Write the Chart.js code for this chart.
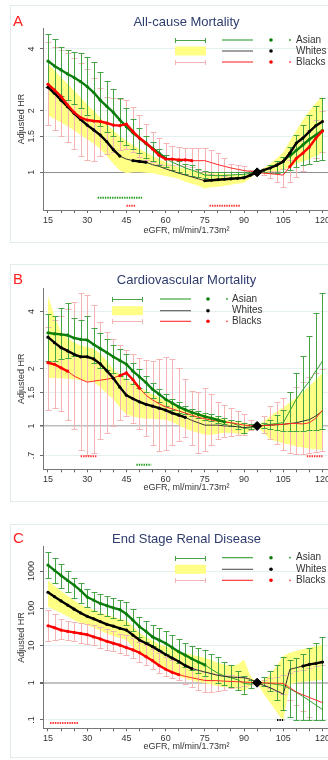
<!DOCTYPE html>
<html><head><meta charset="utf-8">
<script src="https://cdn.jsdelivr.net/npm/chart.js@4.4.0/dist/chart.umd.min.js"></script>
<style>
html,body{margin:0;padding:0;background:#fff;width:328px;height:760px;overflow:hidden;position:relative}
.frame{position:absolute;left:10px;width:340px;border:1px solid #e3ecec;background:#fff}
canvas{position:absolute;left:0}
</style></head><body>
<div class="frame" style="top:5px;height:236px"></div>
<div class="frame" style="top:264px;height:236px"></div>
<div class="frame" style="top:524px;height:232px"></div>
<canvas id="cA" width="340" height="250" style="top:0px"></canvas>
<canvas id="cB" width="340" height="250" style="top:255px"></canvas>
<canvas id="cC" width="340" height="248" style="top:512px"></canvas>
<script>
// ---------- DATA ----------
const eGFR = [15,17.5,20,22.5,25,27.5,30,32.5,35,37.5,40,42.5,45,47.5,50,52.5,55,57.5,60,62.5,65,67.5,70,72.5,75,77.5,80,82.5,85,87.5,90,92.5,95,97.5,100,102.5,105,107.5,110,112.5,115,117.5,120];
const xMajorTicks = [15,30,45,60,75,90,105,120];
const xAllTicks = [15,20,25,30,35,40,45,50,55,60,65,70,75,80,85,90,95,100,105,110,115,120];
const groupLabels = ["Asian","Whites","Blacks"];

// Panel A: All-cause mortality
const asianA   = [3.49,3.3,3.16,3.02,2.9,2.77,2.62,2.45,2.25,2.1,1.96,1.8,1.67,1.56,1.47,1.38,1.31,1.24,1.17,1.12,1.086,1.05,1.026,1.0,0.97,0.965,0.963,0.965,0.97,0.975,0.978,0.99,1.0,1.02,1.05,1.08,1.12,1.2,1.28,1.36,1.45,1.52,1.6];
const asianLoA = [2.6,2.45,2.35,2.25,2.15,2.05,1.9,1.8,1.68,1.58,1.5,1.42,1.36,1.3,1.24,1.18,1.13,1.09,1.06,1.03,1.0,0.98,0.965,0.95,0.935,0.93,0.93,0.935,0.94,0.95,0.96,0.98,1.0,1.0,0.99,0.99,1.0,1.03,1.06,1.08,1.1,1.13,1.15];
const asianHiA = [4.72,4.45,4.1,3.95,3.85,3.8,3.67,3.45,3.1,2.8,2.55,2.3,2.05,1.82,1.65,1.5,1.4,1.3,1.22,1.16,1.13,1.1,1.08,1.04,1.01,1.0,1.0,1.0,1.0,1.0,1.0,1.0,1.0,1.04,1.09,1.14,1.19,1.33,1.52,1.7,1.9,2.1,2.3];
const whiteA   = [2.6,2.43,2.25,2.09,1.94,1.81,1.7,1.61,1.52,1.41,1.29,1.2,1.16,1.14,1.13,1.12,1.09,1.07,1.04,1.015,0.99,0.97,0.95,0.93,0.91,0.915,0.92,0.925,0.93,0.935,0.94,0.97,1.0,1.026,1.05,1.085,1.13,1.24,1.39,1.47,1.58,1.69,1.77];
const whiteLoA = [1.9,1.82,1.75,1.68,1.6,1.52,1.45,1.38,1.3,1.2,1.1,1.02,0.99,1.0,1.0,0.995,0.99,0.975,0.96,0.945,0.93,0.9,0.88,0.86,0.835,0.845,0.85,0.86,0.87,0.88,0.89,0.94,1.0,1.0,1.0,1.01,1.03,1.06,1.1,1.13,1.16,1.2,1.25];
const whiteHiA = [3.4,3.15,2.9,2.7,2.5,2.32,2.15,2.0,1.85,1.72,1.6,1.5,1.42,1.36,1.3,1.25,1.2,1.16,1.12,1.09,1.06,1.04,1.02,1.0,0.99,0.99,0.99,0.985,0.98,0.98,0.98,0.99,1.0,1.05,1.1,1.17,1.25,1.42,1.6,1.8,2.0,2.18,2.35];
const blackA   = [2.69,2.52,2.34,2.13,1.96,1.85,1.8,1.78,1.77,1.74,1.7,1.69,1.72,1.58,1.47,1.39,1.3,1.21,1.16,1.16,1.15,1.15,1.14,1.14,1.14,1.115,1.09,1.07,1.05,1.035,1.02,1.01,1.0,0.99,0.985,0.977,0.97,1.066,1.17,1.24,1.33,1.47,1.59];
const blackLoA = [1.7,1.6,1.5,1.4,1.3,1.2,1.15,1.14,1.2,1.23,1.26,1.28,1.3,1.25,1.19,1.15,1.12,1.1,1.09,1.08,1.08,1.07,1.06,1.03,1.0,0.985,0.97,0.96,0.95,0.95,0.96,0.98,1.0,0.97,0.94,0.9,0.85,0.9,0.95,1.02,1.1,1.17,1.25];
const blackHiA = [4.3,4.1,3.95,3.8,3.6,3.4,3.2,2.9,2.57,2.34,2.3,2.28,2.25,2.09,1.9,1.73,1.58,1.47,1.39,1.35,1.33,1.32,1.31,1.31,1.31,1.28,1.24,1.17,1.1,1.08,1.07,1.03,1.0,1.005,1.01,1.02,1.04,1.15,1.3,1.42,1.6,1.8,2.0];

// Panel B: Cardiovascular mortality
const asianB   = [3.09,3.05,3.03,3.0,2.9,2.85,2.83,2.68,2.55,2.43,2.31,2.21,2.11,1.94,1.81,1.69,1.56,1.47,1.38,1.32,1.26,1.22,1.18,1.15,1.12,1.1,1.075,1.05,1.04,1.01,0.97,0.98,1.0,1.01,1.02,1.03,1.04,1.2,1.38,1.55,1.72,1.95,2.19];
const asianLoB = [2.19,2.2,2.24,2.28,2.33,2.32,2.31,2.15,2.02,1.96,1.9,1.83,1.76,1.67,1.59,1.5,1.41,1.34,1.27,1.22,1.17,1.15,1.13,1.1,1.08,1.06,1.04,1.02,1.0,0.96,0.92,0.96,1.0,0.98,0.96,0.95,0.94,0.94,0.94,0.945,0.95,0.955,0.96];
const asianHiB = [3.86,3.78,4.17,4.44,3.7,3.6,3.78,3.28,3.09,2.85,2.68,2.53,2.38,2.15,2.0,1.83,1.69,1.57,1.47,1.38,1.33,1.27,1.23,1.2,1.17,1.15,1.13,1.1,1.08,1.06,1.04,1.02,1.0,1.04,1.08,1.14,1.22,1.5,1.9,2.33,2.97,3.93,5.0];
const whiteB   = [2.93,2.74,2.58,2.48,2.38,2.31,2.31,2.25,2.12,1.95,1.78,1.6,1.45,1.39,1.34,1.3,1.27,1.24,1.21,1.17,1.14,1.11,1.07,1.04,1.01,1.01,1.01,1.0,1.0,0.99,0.98,0.99,1.0,1.005,1.01,1.015,1.02,1.03,1.04,1.06,1.08,1.13,1.2];
const whiteLoB = [1.79,1.78,1.78,1.77,1.76,1.74,1.72,1.7,1.6,1.48,1.38,1.25,1.15,1.12,1.1,1.09,1.09,1.08,1.08,1.05,1.01,0.97,0.94,0.92,0.9,0.9,0.91,0.92,0.92,0.91,0.9,0.95,1.0,0.92,0.85,0.83,0.81,0.8,0.78,0.77,0.76,0.755,0.75];
const whiteHiB = [4.8,3.78,3.09,2.9,2.75,2.65,2.6,2.55,2.4,2.2,1.98,1.86,1.76,1.67,1.59,1.53,1.47,1.41,1.35,1.31,1.27,1.23,1.2,1.17,1.15,1.12,1.1,1.08,1.06,1.05,1.04,1.02,1.0,1.06,1.13,1.19,1.25,1.33,1.41,1.51,1.62,1.75,1.9];
const blackB   = [2.15,2.11,2.02,1.94,1.83,1.76,1.7,1.72,1.74,1.76,1.79,1.84,1.9,1.75,1.58,1.45,1.37,1.31,1.26,1.23,1.2,1.17,1.14,1.11,1.09,1.075,1.06,1.05,1.04,1.025,1.01,1.005,1.0,1.005,1.01,1.015,1.02,1.03,1.03,1.025,1.04,1.1,1.21];
const blackLoB = [1.22,1.25,1.2,1.08,0.96,0.75,0.7,0.72,0.85,0.92,1.0,1.08,1.13,1.04,0.96,0.89,0.79,0.74,0.75,0.79,0.83,0.87,0.79,0.72,0.74,0.79,0.85,0.87,0.89,0.9,0.9,0.95,1.0,0.92,0.85,0.8,0.75,0.72,0.71,0.71,0.72,0.73,0.74];
const blackHiB = [3.3,3.6,3.8,4.1,4.5,5.0,4.9,4.3,3.5,3.1,2.85,2.65,2.5,2.38,2.28,2.22,2.2,2.25,2.31,2.24,2.02,1.76,1.53,1.5,1.59,1.47,1.33,1.29,1.25,1.2,1.15,1.08,1.0,1.13,1.27,1.34,1.41,1.5,1.6,1.7,1.8,1.9,2.0];

// Panel C: End stage renal disease
const asianC   = [1450,1050,760,560,420,300,200,165,135,118,103,92,70,48,32,24,17,14,11.5,8.8,6.8,5.5,4.4,3.6,3.0,2.3,1.8,1.5,1.35,1.2,0.95,0.92,1.0,0.98,0.95,0.9,0.85,0.68,0.55,0.43,0.33,0.25,0.19];
const asianLoC = [640,480,360,270,195,140,108,85,72,62,54,48,35,24,16.5,12.5,9.5,7.5,6,4.6,3.4,2.7,2.2,1.8,1.5,1.2,1.0,0.85,0.75,0.65,0.5,0.72,1.0,0.8,0.6,0.35,0.18,0.12,0.1,0.1,0.1,0.1,0.1];
const asianHiC = [3200,2200,1550,1000,650,480,330,270,235,210,190,172,150,95,60,45,36,29,24,19,15,12,9.5,8.5,7.5,6,4.8,3.7,2.9,2.1,1.5,1.15,1.0,1.4,2.0,3.0,4.8,4.0,4.5,6,8.5,12,17];
const whiteC   = [270,205,158,122,95,75,61,52,44,37,33,29,26,19,14,11.5,9.3,7.3,5.7,4.6,3.7,2.9,2.4,2.15,1.94,1.75,1.57,1.48,1.42,1.38,1.36,1.23,1.0,0.85,0.73,0.6,0.49,2.28,2.53,2.8,3.1,3.3,3.6];
const whiteLoC = [110,90,75,60,48,40,35,30,25,21,18,16,14,9,6,4.8,3.8,3.0,2.4,1.9,1.5,1.3,1.15,1.05,0.98,0.88,0.8,0.76,0.73,0.68,0.6,0.8,1.0,0.5,0.29,0.16,0.093,0.9,1.0,1.05,1.1,1.15,1.2];
const whiteHiC = [560,400,290,215,165,125,105,90,75,66,58,52,47,33,22,17,13.5,11,9.5,8,6.8,6.2,5.6,5.1,4.7,4.0,3.45,3.1,2.8,3.1,4.2,1.5,1.0,1.2,1.67,2.8,5.2,6.4,7.1,7.9,8.7,9.7,10.7];
const blackC   = [34,30,26,24,22.5,21,19.5,17,15,13,11.5,10.2,8.8,7.6,6.4,5.0,3.9,2.9,2.3,1.9,1.65,1.48,1.36,1.25,1.15,1.14,1.13,1.1,1.08,1.06,1.04,1.02,1.0,0.99,0.98,0.97,0.96,0.73,0.56,0.47,0.4,0.34,0.29];
const blackLoC = [13,14,14.6,14,13,12,11,10,8.7,7.8,7.0,6.2,5.4,4.5,3.6,3.0,2.3,1.85,1.55,1.35,1.2,0.95,0.75,0.62,0.55,0.57,0.6,0.65,0.7,0.75,0.8,0.9,1.0,0.85,0.7,0.6,0.5,0.35,0.25,0.17,0.12,0.1,0.1];
const blackHiC = [90,70,50,46,44,41,38,35,31,27,24,21,19,15.5,12.5,10,8,6.3,5,4.1,3.4,2.9,2.5,2.15,1.9,1.78,1.7,1.65,1.6,1.5,1.4,1.2,1.0,1.15,1.3,1.45,1.6,1.8,2.0,2.25,2.5,2.75,3.0];

// ranges of eGFR where thick dot markers are shown
const dotsA = {asian:[[15,60],[107.5,120]], white:[[15,42.5],[47.5,52.5],[75,120]], black:[[15,70],[107.5,120]]};
const dotsB = {asian:[[15,82.5]], white:[[15,67.5]], black:[[15,22.5],[42.5,50]]};
const dotsC = {asian:[[15,75]], white:[[15,70],[112.5,120]], black:[[15,65]]};
// significance rows: eGFR ranges with the HR level of the row
const sigA = [{g:"asian",lv:0.752,r:[34,51]},{g:"black",lv:0.687,r:[45,48.7]},{g:"black",lv:0.687,r:[76.8,88.6]}];
const sigB = [{g:"black",lv:0.693,r:[27.5,33.5]},{g:"black",lv:0.693,r:[114,120]},{g:"asian",lv:0.626,r:[48.8,54.5]}];
const sigC = [{g:"black",lv:0.083,r:[15.8,26.6]},{g:"white",lv:0.1,r:[102.6,105.4]}];

const yTicksA = [1,1.5,2,4],        yLabelsA = ["1","1.5","2","4"];
const yTicksB = [0.7,1,1.5,2,4],    yLabelsB = [".7","1","1.5","2","4"];
const yTicksC = [0.1,1,10,100,1000],yLabelsC = [".1","1","10","100","1000"];

// ---------- DRAWING ----------
const F = '"Liberation Sans", Arial, Helvetica, sans-serif';
const COL = {
  asianBar:'#46a346', asianLine:'#2f9e2f', asianDot:'#0b7d0b',
  whiteBand:'#ffff86', whiteLine:'#333333', whiteDot:'#000000',
  blackBar:'#f4b4b4', blackLine:'#ff2a2a', blackDot:'#ff0000'
};
const SIGC = {asian:'#1f9f1f', black:'#ff3030', white:'#000000'};

function inRanges(x, rs){ return rs.some(r => x >= r[0]-1e-9 && x <= r[1]+1e-9); }

function drawBars(ctx, xs, ys, lo, hi, color){
  ctx.strokeStyle = color; ctx.lineWidth = 1; ctx.beginPath();
  const cap = 3;
  for (let i = 0; i < eGFR.length; i++){
    if (lo[i] == null || hi[i] == null) continue;
    const x = Math.round(xs.getPixelForValue(eGFR[i])) + 0.5;
    const y1 = Math.round(ys.getPixelForValue(lo[i])) + 0.5;
    const y2 = Math.round(ys.getPixelForValue(hi[i])) + 0.5;
    ctx.moveTo(x, y1); ctx.lineTo(x, y2);
    ctx.moveTo(x-cap, y1); ctx.lineTo(x+cap, y1);
    ctx.moveTo(x-cap, y2); ctx.lineTo(x+cap, y2);
  }
  ctx.stroke();
}

function legErr(ctx, x1, x2, y, color){
  ctx.strokeStyle = color; ctx.lineWidth = 1; ctx.beginPath();
  y = Math.round(y) + 0.5;
  ctx.moveTo(x1, y); ctx.lineTo(x2, y);
  ctx.moveTo(x1+0.5, y-2.5); ctx.lineTo(x1+0.5, y+2.5);
  ctx.moveTo(x2-0.5, y-2.5); ctx.lineTo(x2-0.5, y+2.5);
  ctx.stroke();
}
function dot(ctx, x, y, r, c){ ctx.fillStyle = c; ctx.beginPath(); ctx.arc(x, y, r, 0, Math.PI*2); ctx.fill(); }

function build(id, P){
  const mk = arr => eGFR.map((x,i) => ({x, y: arr[i]}));
  const mask = (arr, rs) => eGFR.map((x,i) => ({x, y: inRanges(x, rs) ? arr[i] : null}));
  const ds = [];
  ds.push({data:[{x:95,y:1}], pointStyle:'rectRot', pointRadius:4.5, backgroundColor:'#000', borderColor:'#000', showLine:false, order:0});
  P.sig.forEach(s => ds.push({data:[{x:s.r[0],y:s.lv},{x:s.r[1],y:s.lv}], borderColor:SIGC[s.g], borderWidth:2, borderDash:[1.4,1], pointRadius:0, order:1}));
  ds.push({data:mask(P.black.est, P.dots.black), borderColor:COL.blackDot, backgroundColor:COL.blackDot, borderWidth:2.4, pointRadius:1.6, pointBorderWidth:0, order:2});
  ds.push({data:mask(P.white.est, P.dots.white), borderColor:COL.whiteDot, backgroundColor:COL.whiteDot, borderWidth:2.4, pointRadius:1.6, pointBorderWidth:0, order:3});
  ds.push({data:mask(P.asian.est, P.dots.asian), borderColor:COL.asianDot, backgroundColor:COL.asianDot, borderWidth:2.4, pointRadius:1.6, pointBorderWidth:0, order:4});
  ds.push({data:mk(P.black.est), borderColor:COL.blackLine, borderWidth:1, pointRadius:0, order:5});
  ds.push({data:mk(P.white.est), borderColor:COL.whiteLine, borderWidth:1, pointRadius:0, order:6});
  ds.push({data:mk(P.asian.est), borderColor:COL.asianLine, borderWidth:1, pointRadius:0, order:7});
  const loIndex = ds.length;
  ds.push({data:mk(P.white.lo), borderWidth:0, pointRadius:0, fill:false, order:11});
  ds.push({data:mk(P.white.hi), borderWidth:0, pointRadius:0, fill:loIndex, backgroundColor:COL.whiteBand, order:10, drawBars:true});

  const deco = {
    id:'deco'+id,
    afterDatasetDraw(chart, args){
      const d = chart.data.datasets[args.index];
      if (!d.drawBars) return;
      const ctx = chart.ctx, a = chart.chartArea;
      ctx.save(); ctx.beginPath(); ctx.rect(a.left, a.top, a.right-a.left, a.bottom-a.top); ctx.clip();
      drawBars(ctx, chart.scales.x, chart.scales.y, P.black.lo, P.black.hi, COL.blackBar);
      drawBars(ctx, chart.scales.x, chart.scales.y, P.asian.lo, P.asian.hi, COL.asianBar);
      ctx.restore();
    },
    afterDraw(chart){
      const ctx = chart.ctx, a = chart.chartArea, ys = chart.scales.y;
      ctx.save();
      ctx.textBaseline = 'middle';
      ctx.fillStyle = '#ff2020'; ctx.font = '15px ' + F; ctx.textAlign = 'left';
      ctx.fillText(P.letter, 13, P.titleY);
      ctx.fillStyle = '#2e3c6e'; ctx.font = '13px ' + F; ctx.textAlign = 'center';
      ctx.fillText(P.title, 186.5, P.titleY);
      // y tick labels (vertical)
      ctx.fillStyle = '#333'; ctx.font = '9px ' + F;
      P.yt.forEach((v,i) => {
        const y = ys.getPixelForValue(v);
        ctx.save(); ctx.translate(32, y); ctx.rotate(-Math.PI/2);
        ctx.textAlign = 'center'; ctx.fillText(P.yl[i], 0, 0); ctx.restore();
      });
      ctx.save(); ctx.translate(21.5, (a.top + a.bottom)/2); ctx.rotate(-Math.PI/2);
      ctx.textAlign = 'center'; ctx.fillText('Adjusted HR', 0, 0); ctx.restore();
      ctx.textAlign = 'center';
      ctx.fillText('eGFR, ml/min/1.73m\u00B2', 186.5, a.bottom + P.xTitleOff);
      // legend
      const L = P.leg, R = L.rows;
      legErr(ctx, L.bar[0], L.bar[1], R[0], COL.asianBar);
      ctx.fillStyle = COL.whiteBand; ctx.fillRect(L.bar[0], R[1]-4.5, L.bar[1]-L.bar[0], 9);
      legErr(ctx, L.bar[0], L.bar[1], R[2], COL.blackBar);
      const lc = [COL.asianLine, '#555', COL.blackLine];
      lc.forEach((c,i) => { ctx.strokeStyle = c; ctx.lineWidth = 1.1; ctx.beginPath(); ctx.moveTo(L.line[0], R[i]); ctx.lineTo(L.line[1], R[i]); ctx.stroke(); });
      dot(ctx, L.dot, R[0], 1.8, COL.asianDot); dot(ctx, L.dot, R[1], 1.8, '#000'); dot(ctx, L.dot, R[2], 1.8, COL.blackDot);
      dot(ctx, L.sdot, R[0], 0.9, '#2aa02a'); dot(ctx, L.sdot, R[2], 0.9, '#ff4040');
      ctx.fillStyle = '#333'; ctx.font = '10px ' + F; ctx.textAlign = 'left';
      groupLabels.forEach((t,i) => ctx.fillText(t, L.text, R[i]));
      ctx.restore();
    }
  };

  new Chart(document.getElementById(id), {
    type:'line',
    data:{datasets:ds},
    options:{
      responsive:false, animation:false, events:[],
      layout:{padding:{top:P.top, left:0, right:0, bottom:0}},
      plugins:{legend:{display:false}, tooltip:{enabled:false}},
      scales:{
        x:{type:'linear', min:13.09, max:124.6,
          afterFit:s => { s.height = P.xh; s.paddingLeft = 0; s.paddingRight = 0; },
          afterBuildTicks:s => { s.ticks = xAllTicks.map(v => ({value:v})); },
          grid:{drawOnChartArea:false, drawTicks:true, tickLength:3, tickColor:'#666'},
          border:{color:'#777', width:1},
          ticks:{autoSkip:false, maxRotation:0, minRotation:0, padding:2, color:'#333', font:{size:9, family:F},
            callback:v => xMajorTicks.includes(v) ? String(v) : ''}
        },
        y:{type:'logarithmic', min:P.ymin, max:P.ymax,
          afterFit:s => { s.width = 43; s.paddingTop = 0; s.paddingBottom = 0; },
          afterBuildTicks:s => { s.ticks = P.yt.map(v => ({value:v})); },
          grid:{color:c => (c.tick && c.tick.value === 1) ? P.refC : '#e6efef',
                lineWidth:c => (c.tick && c.tick.value === 1) ? P.refW : 1,
                drawTicks:true, tickLength:3, tickColor:'#666'},
          border:{color:'#777', width:1},
          ticks:{display:false}
        }
      }
    },
    plugins:[deco]
  });
}

const legWide = {bar:[175,206], line:[222,253], dot:271, sdot:290, text:296};
build('cA', {letter:'A', title:'All-cause Mortality', titleY:22, top:28, xh:40, xTitleOff:21,
  ymin:0.655, ymax:5.06, yt:yTicksA, yl:yLabelsA, refC:'#8f8f8f', refW:1,
  asian:{est:asianA, lo:asianLoA, hi:asianHiA}, white:{est:whiteA, lo:whiteLoA, hi:whiteHiA}, black:{est:blackA, lo:blackLoA, hi:blackHiA},
  dots:dotsA, sig:sigA, leg:Object.assign({rows:[40,51,62]}, legWide)});
build('cB', {letter:'B', title:'Cardiovascular Mortality', titleY:25, top:33, xh:35.7, xTitleOff:18,
  ymin:0.592, ymax:5.31, yt:yTicksB, yl:yLabelsB, refC:'#bdbdbd', refW:1.5,
  asian:{est:asianB, lo:asianLoB, hi:asianHiB}, white:{est:whiteB, lo:whiteLoB, hi:whiteHiB}, black:{est:blackB, lo:blackLoB, hi:blackHiB},
  dots:dotsB, sig:sigB, leg:{rows:[44,55.7,66.3], bar:[112,143], line:[160,191], dot:208, sdot:227, text:232}});
build('cC', {letter:'C', title:'End Stage Renal Disease', titleY:27, top:34.7, xh:31.7, xTitleOff:18,
  ymin:0.0594, ymax:4530, yt:yTicksC, yl:yLabelsC, refC:'#c2c2c2', refW:2,
  asian:{est:asianC, lo:asianLoC, hi:asianHiC}, white:{est:whiteC, lo:whiteLoC, hi:whiteHiC}, black:{est:blackC, lo:blackLoC, hi:blackHiC},
  dots:dotsC, sig:sigC, leg:Object.assign({rows:[45.7,57.3,68.3]}, legWide)});
</script>
</body></html>
